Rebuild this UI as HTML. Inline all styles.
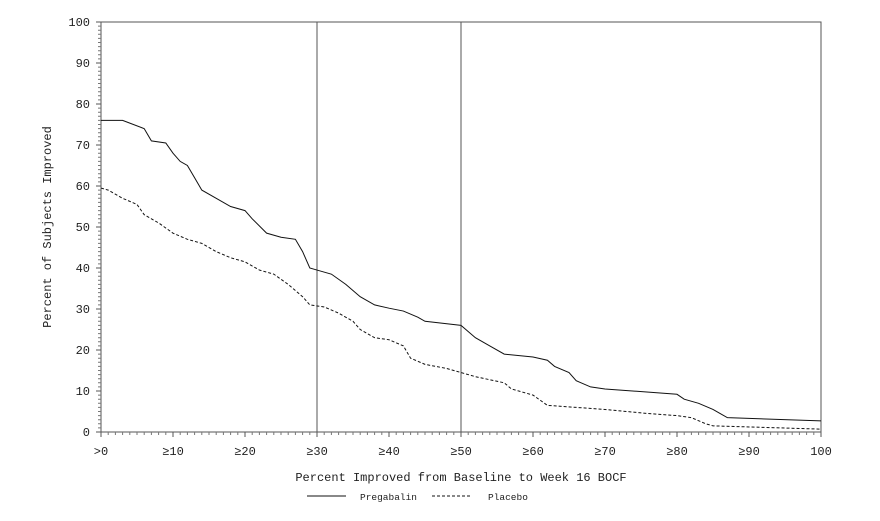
<!DOCTYPE html>
<html><head><meta charset="utf-8"><style>
body{margin:0;background:#fff;}
text{font-family:"Liberation Mono",monospace;font-size:12px;fill:#222;}
</style></head><body>
<svg width="880" height="516" viewBox="0 0 880 516" xmlns="http://www.w3.org/2000/svg">
<g stroke="#555" stroke-width="1" fill="none">
<path d="M101,22 H821 V432 M101,22 V432 H821"/>
<path d="M317,22 V432 M461,22 V432"/>
<path d="M96,22h5M96,63h5M96,104h5M96,145h5M96,186h5M96,227h5M96,268h5M96,309h5M96,350h5M96,391h5M96,432h5"/>
<path d="M101,437v-5M173,437v-5M245,437v-5M317,437v-5M389,437v-5M461,437v-5M533,437v-5M605,437v-5M677,437v-5M749,437v-5M821,437v-5"/>
</g>
<g stroke="#777" stroke-width="1" id="minor"></g>
<g transform="translate(101,432) scale(7.2,-4.1)" fill="none" stroke="#111">
<polyline vector-effect="non-scaling-stroke" stroke-width="1" points="0,76 3,76 6,74 7,71 9,70.5 10,68 11,66 12,65 13,62 14,59 16,57 18,55 20,54 21,52 23,48.5 25,47.5 27,47 28,44 29,40 30,39.5 32,38.5 34,36 36,33 38,31 40,30.2 42,29.5 44,28 45,27 50,26 52,23 54,21 56,19 60,18.3 62,17.5 63,16 65,14.5 66,12.5 68,11 70,10.5 80,9.2 81,8 83,7 85,5.5 86,4.5 87,3.5 100,2.7"/>
<polyline vector-effect="non-scaling-stroke" stroke-width="1" stroke-dasharray="3,2" points="0,59.5 1,59 3,57 5,55.5 6,53 8,51 10,48.5 12,47 14,46 16,44 18,42.5 20,41.5 22,39.5 24,38.5 26,36 28,33 29,31 31,30.5 33,29 35,27 36,25 38,23 40,22.5 42,21 43,18 45,16.5 48,15.5 50,14.5 52,13.5 56,12 57,10.5 60,9 62,6.5 70,5.5 76,4.5 80,4 82,3.5 84,2 85,1.5 100,0.7"/>
</g>
<g text-anchor="end">
<text x="90" y="26">100</text><text x="90" y="67">90</text><text x="90" y="108">80</text><text x="90" y="149">70</text><text x="90" y="190">60</text><text x="90" y="231">50</text><text x="90" y="272">40</text><text x="90" y="313">30</text><text x="90" y="354">20</text><text x="90" y="395">10</text><text x="90" y="436">0</text>
</g>
<g text-anchor="middle">
<text x="101" y="455">&gt;0</text><text x="173" y="455">≥10</text><text x="245" y="455">≥20</text><text x="317" y="455">≥30</text><text x="389" y="455">≥40</text><text x="461" y="455">≥50</text><text x="533" y="455">≥60</text><text x="605" y="455">≥70</text><text x="677" y="455">≥80</text><text x="749" y="455">≥90</text><text x="821" y="455">100</text>
<text x="461" y="481">Percent Improved from Baseline to Week 16 BOCF</text>
<text transform="translate(51,227) rotate(-90)">Percent of Subjects Improved</text>
</g>
<line x1="307" y1="496" x2="346" y2="496" stroke="#111"/>
<line x1="432" y1="496" x2="471" y2="496" stroke="#111" stroke-dasharray="3,2"/>
<text x="360" y="500" style="font-size:9.5px">Pregabalin</text>
<text x="488" y="500" style="font-size:9.5px">Placebo</text>
</svg>
<script>
var g=document.getElementById('minor'),s='';
for(var i=1;i<100;i++){if(i%10){var y=432-4.1*i;s+='M98,'+y+'h3';var x=101+7.2*i;s+='M'+x+',435v-3';}}
var p=document.createElementNS('http://www.w3.org/2000/svg','path');p.setAttribute('d',s);g.appendChild(p);
</script>
</body></html>
